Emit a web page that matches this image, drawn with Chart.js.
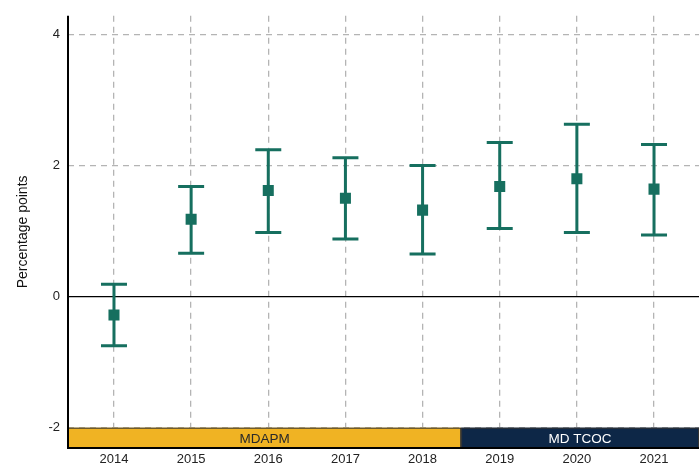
<!DOCTYPE html>
<html>
<head>
<meta charset="utf-8">
<script src="https://cdn.jsdelivr.net/npm/chart.js@4/dist/chart.umd.min.js"></script>
<style>
  html, body { margin: 0; padding: 0; background: #fff; }
  #wrap { width: 699px; height: 469px; position: relative; }
</style>
</head>
<body>
<div id="wrap"><canvas id="c" width="699" height="469"></canvas></div>
<script>
// ---- Data ----
const years = [2014, 2015, 2016, 2017, 2018, 2019, 2020, 2021];
const estimate = [-0.28, 1.18, 1.62, 1.50, 1.32, 1.68, 1.80, 1.64];
const upper = [0.19, 1.68, 2.24, 2.12, 2.00, 2.35, 2.63, 2.32];
const lower = [-0.75, 0.66, 0.98, 0.88, 0.65, 1.04, 0.98, 0.94];
const yTicks = [-2, 0, 2, 4];
const periodLabels = ['MDAPM', 'MD TCOC'];
const periodStart = [2013.4, 2018.5];
const periodEnd = [2018.5, 2021.6];
const periodColors = ['#F0B323', '#0D2747'];
const periodTextColors = ['#2a2a2a', '#ffffff'];

const TEAL = '#166f5f';

const errorBarPlugin = {
  id: 'errorBars',
  beforeDatasetsDraw(chart) {
    const { ctx, scales: { x, y } } = chart;
    ctx.save();
    ctx.strokeStyle = '#000';
    ctx.lineWidth = 1.2;
    ctx.beginPath();
    const y0 = y.getPixelForValue(0);
    ctx.moveTo(chart.chartArea.left, y0);
    ctx.lineTo(chart.chartArea.right, y0);
    ctx.stroke();

    ctx.strokeStyle = TEAL;
    ctx.lineWidth = 3;
    const half = 13;
    years.forEach((yr, i) => {
      const px = x.getPixelForValue(yr);
      const pu = y.getPixelForValue(upper[i]);
      const pl = y.getPixelForValue(lower[i]);
      ctx.beginPath();
      ctx.moveTo(px, pu); ctx.lineTo(px, pl);
      ctx.moveTo(px - half, pu); ctx.lineTo(px + half, pu);
      ctx.moveTo(px - half, pl); ctx.lineTo(px + half, pl);
      ctx.stroke();
    });
    ctx.restore();
  },
  afterDatasetsDraw(chart) {
    const { ctx, scales: { x, y }, chartArea } = chart;
    ctx.save();
    const top = y.getPixelForValue(-2);
    const bottom = y.getPixelForValue(y.min);
    periodLabels.forEach((lab, i) => {
      const l = Math.max(chartArea.left, x.getPixelForValue(periodStart[i]));
      const r = Math.min(chartArea.right, x.getPixelForValue(periodEnd[i]));
      ctx.fillStyle = periodColors[i];
      ctx.fillRect(l, top, r - l, bottom - top);
      ctx.strokeStyle = '#333';
      ctx.lineWidth = 1;
      ctx.strokeRect(l + 0.5, top + 0.5, r - l - 1, bottom - top - 1);
      ctx.fillStyle = periodTextColors[i];
      ctx.font = '13.5px "Liberation Sans", Arial, sans-serif';
      ctx.textAlign = 'center';
      ctx.textBaseline = 'middle';
      ctx.fillText(lab, (l + r) / 2, (top + bottom) / 2 + 1);
    });
    ctx.strokeStyle = '#000';
    ctx.lineWidth = 2;
    ctx.beginPath();
    ctx.moveTo(chartArea.left, chartArea.top);
    ctx.lineTo(chartArea.left, chartArea.bottom);
    ctx.lineTo(chartArea.right, chartArea.bottom);
    ctx.stroke();
    ctx.restore();
  }
};

new Chart(document.getElementById('c'), {
  type: 'scatter',
  data: {
    datasets: [{
      data: years.map((yr, i) => ({ x: yr, y: estimate[i] })),
      pointStyle: 'rect',
      pointRadius: 7.8,
      pointHoverRadius: 7.8,
      backgroundColor: TEAL,
      borderColor: TEAL,
      borderWidth: 0
    }]
  },
  options: {
    responsive: false,
    animation: false,
    events: [],
    layout: { autoPadding: false, padding: { top: 15, right: 0, left: 0, bottom: 0 } },
    plugins: { legend: { display: false }, tooltip: { enabled: false } },
    scales: {
      x: {
        type: 'linear',
        min: 2013.404,
        max: 2021.583,
        afterBuildTicks: s => { s.ticks = years.map(v => ({ value: v })); },
        afterFit: s => { s.height = 21; },
        ticks: {
          callback: v => String(v),
          color: '#222',
          font: { family: '"Liberation Sans", Arial, sans-serif', size: 13 },
          padding: 4,
          maxRotation: 0
        },
        grid: { drawTicks: false, color: '#b4b4b4', lineWidth: 1.3 },
        border: { display: false, dash: [6, 5] }
      },
      y: {
        type: 'linear',
        min: -2.31,
        max: 4.285,
        afterBuildTicks: s => { s.ticks = yTicks.map(v => ({ value: v })); },
        afterFit: s => { s.width = 68; },
        title: {
          display: true,
          text: 'Percentage points',
          color: '#111',
          font: { family: '"Liberation Sans", Arial, sans-serif', size: 14 },
          padding: { top: 15, bottom: 0 }
        },
        ticks: {
          color: '#222',
          font: { family: '"Liberation Sans", Arial, sans-serif', size: 13 },
          padding: 8
        },
        grid: {
          drawTicks: false,
          color: ctx => (ctx.tick && ctx.tick.value === 0) ? 'rgba(0,0,0,0)' : '#b4b4b4',
          lineWidth: 1.3
        },
        border: { display: false, dash: [6, 5] }
      }
    }
  },
  plugins: [errorBarPlugin]
});
</script>
</body>
</html>
